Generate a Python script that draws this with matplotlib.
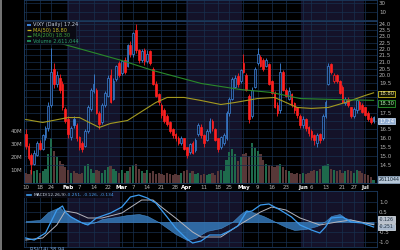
import numpy as np
import pandas as pd
import matplotlib
matplotlib.use("Agg")
import matplotlib.pyplot as plt
from matplotlib.patches import Rectangle
from matplotlib.lines import Line2D
from matplotlib.transforms import offset_copy

# trading days on the chart (VIXY daily, Jan 10 - Jul 7 2011)
dates = pd.bdate_range("2011-01-10", "2011-07-07")
dates = dates.drop(pd.to_datetime(["2011-01-17", "2011-02-21", "2011-04-22",
                                   "2011-05-30", "2011-07-04"]))

opn = [16.23, 15.56, 15.07, 14.6, 15.07, 15.72, 15.4, 16.06, 16.57, 18.03,
       20.48, 19.42, 19.84, 19.42, 17.75, 17.11, 16.06, 17.11, 16.75, 16.06,
       15.72, 15.56, 16.4, 17.75, 18.91, 19.01, 17.47, 16.93, 18.03, 18.61,
       20.05, 18.42, 19.73, 20.92, 20.15, 21.14, 20.7, 22.28, 21.59, 23.5,
       21.94, 21.14, 21.94, 21.03, 21.82, 20.48, 19.42, 18.71, 18.03, 17.66,
       17.29, 16.93, 16.49, 16.23, 15.97, 15.72, 15.97, 15.48, 15.2, 15.72,
       15.3, 16.23, 16.66, 16.14, 15.89, 16.4, 17.02, 16.49, 15.97, 15.48,
       15.72, 15.97, 17.47, 18.42, 19.22, 19.94, 19.63, 20.92, 20.05, 18.61,
       17.29, 19.22, 20.92, 21.37, 21.14, 20.7, 20.81, 19.63, 18.81, 18.03,
       17.66, 20.27, 19.01, 18.42, 18.71, 18.13, 17.84, 17.29, 16.75, 17.11,
       16.66, 16.4, 16.14, 15.72, 16.23, 15.97, 17.29, 19.42, 20.81, 19.63,
       20.05, 19.63, 19.22, 18.13, 18.42, 17.84, 17.29, 17.66, 18.22, 18.03,
       17.84, 17.47, 17.2, 17.02]
hi = [16.5, 15.7, 15.15, 15.3, 15.8, 15.9, 16.2, 16.7, 18.2, 22.05,
      20.9, 20.3, 20.1, 19.6, 17.9, 17.3, 16.7, 17.3, 16.9, 16.1,
      15.8, 16.5, 18.0, 19.1, 20.1, 19.1, 17.6, 18.1, 18.9, 20.0,
      20.5, 19.8, 20.8, 21.1, 21.1, 21.4, 22.4, 22.6, 23.4, 24.0,
      22.0, 22.0, 22.1, 21.9, 21.9, 20.6, 19.6, 18.8, 18.1, 17.8,
      17.4, 17.0, 16.6, 16.3, 16.1, 16.1, 16.0, 15.5, 15.7, 15.8,
      16.0, 16.9, 16.8, 16.2, 16.5, 17.2, 17.1, 16.6, 16.0, 16.1,
      16.3, 17.6, 18.5, 19.9, 20.0, 20.2, 20.5, 21.6, 20.2, 18.7,
      19.2, 20.6, 22.1, 21.5, 21.3, 21.3, 20.9, 19.7, 18.9, 18.2,
      20.9, 20.4, 19.1, 19.2, 18.8, 18.2, 17.9, 17.4, 17.3, 17.2,
      16.7, 16.5, 16.2, 16.3, 16.3, 17.4, 18.3, 20.9, 20.9, 20.2,
      20.1, 19.7, 19.3, 18.5, 18.5, 17.9, 17.9, 18.4, 18.3, 18.1,
      17.9, 17.6, 17.3, 17.3]
lo = [15.4, 14.8, 14.07, 14.5, 15.0, 15.3, 15.3, 15.9, 16.4, 17.9,
      19.1, 19.2, 18.8, 17.7, 16.9, 16.0, 15.9, 16.6, 15.8, 15.3,
      15.2, 15.5, 16.3, 17.6, 18.8, 17.4, 16.5, 16.8, 17.9, 18.5,
      18.1, 18.3, 19.6, 19.9, 20.0, 20.1, 20.6, 21.4, 21.4, 21.7,
      20.9, 21.0, 20.8, 20.9, 20.8, 19.3, 18.5, 18.0, 17.2, 16.9,
      16.7, 16.3, 16.0, 15.8, 15.6, 15.6, 15.3, 14.9, 15.1, 15.1,
      15.2, 16.1, 16.0, 15.5, 15.8, 16.3, 16.4, 15.8, 15.2, 15.4,
      15.6, 15.9, 17.3, 18.3, 19.1, 19.2, 19.5, 20.2, 18.9, 16.9,
      17.2, 19.1, 20.8, 20.6, 20.3, 20.6, 19.3, 18.7, 17.8, 17.3,
      17.5, 18.9, 18.5, 18.3, 17.9, 17.5, 17.2, 16.6, 16.6, 16.4,
      16.1, 15.9, 15.6, 15.5, 15.7, 15.9, 17.2, 19.3, 20.1, 19.5,
      19.5, 18.7, 18.1, 18.0, 17.9, 17.2, 17.2, 17.5, 17.7, 17.5,
      17.3, 17.0, 16.8, 16.9]
cls = [15.56, 14.91, 14.6, 15.15, 15.72, 15.4, 16.14, 16.57, 17.93, 20.27,
       19.42, 20.05, 19.01, 17.84, 17.02, 16.23, 16.57, 16.75, 15.97, 15.48,
       15.4, 16.4, 17.84, 19.01, 19.42, 17.47, 16.84, 18.03, 18.81, 19.84,
       18.22, 19.63, 20.7, 20.05, 21.03, 20.27, 22.28, 21.59, 23.25, 21.94,
       21.14, 21.82, 21.03, 21.59, 20.92, 19.42, 18.61, 18.22, 17.38, 17.02,
       16.84, 16.4, 16.14, 15.97, 15.72, 15.97, 15.4, 15.07, 15.64, 15.15,
       15.89, 16.75, 16.14, 15.72, 16.4, 17.02, 16.57, 15.89, 15.4, 16.06,
       16.14, 17.47, 18.42, 19.73, 19.84, 19.42, 20.37, 20.27, 19.01, 17.11,
       19.01, 20.48, 21.59, 20.7, 20.48, 21.14, 19.42, 18.81, 17.84, 17.47,
       20.27, 19.01, 18.61, 18.91, 18.03, 17.66, 17.38, 16.75, 17.11, 16.57,
       16.31, 16.06, 15.89, 16.14, 15.89, 17.29, 18.22, 20.7, 20.27, 20.05,
       19.63, 18.81, 18.22, 18.42, 18.03, 17.29, 17.75, 18.32, 17.75, 17.56,
       17.38, 17.11, 16.93, 17.24]
# volume in millions
vol = [8, 7, 10, 9, 10, 8, 9, 11, 22, 35,
       25, 20, 17, 15, 12, 10, 8, 9, 8, 7,
       8, 13, 15, 11, 8, 10, 9, 8, 10, 12,
       13, 11, 9, 8, 10, 8, 9, 12, 14, 15,
       11, 9, 8, 10, 8, 9, 7, 8, 7, 6,
       8, 7, 6, 7, 6, 8, 9, 10, 8, 9,
       7, 8, 6, 7, 6, 7, 8, 6, 9, 10,
       9, 18, 24, 26, 22, 17, 20, 22, 23, 21,
       31, 27, 25, 22, 18, 15, 14, 13, 12, 14,
       15, 12, 10, 9, 8, 7, 8, 7, 8, 7,
       8, 9, 10, 9, 11, 13, 14, 15, 11, 10,
       9, 10, 8, 9, 10, 9, 8, 10, 9, 8,
       7, 6, 5, 2.6]

ma50_i = [0, 6, 15, 19, 26, 30, 36, 46, 50, 56, 62, 69, 74, 82, 88, 96, 101, 107, 113, 120, 123]
ma50 = [17.09, 16.91, 17.21, 17.21, 16.61, 16.85, 17.03, 18.16, 18.49, 18.49, 18.29,
        18.03, 18.16, 18.42, 18.49, 17.84, 17.78, 17.84, 18.16, 18.62, 18.80]
ma200_i = [12, 15, 34, 45, 62, 76, 87, 97, 108, 123]
ma200 = [22.45, 22.26, 21.1, 20.36, 19.44, 19.02, 18.82, 18.42, 18.36, 18.30]

macd_i = [0, 3, 7, 11, 13, 14, 16, 20, 22, 25, 30, 34, 37, 40, 43, 46, 50, 53, 57, 59,
          62, 65, 69, 72, 75, 78, 80, 83, 86, 90, 94, 97, 101, 104, 106, 108, 112, 115, 119, 123]
macd = [-0.8, -0.9, -0.55, 0.6, 0.8, 0.5, 0.25, -0.05, -0.15, 0.2, 0.45, 0.75, 1.25, 1.35,
        1.2, 0.95, 0.25, -0.3, -0.85, -1.05, -0.95, -0.65, -0.65, -0.45, -0.2, 0.5, 0.55,
        0.85, 0.9, 0.6, 0.25, -0.15, -0.4, -0.55, -0.25, 0.2, 0.25, 0.0, -0.05, -0.25]
sig_i = [0, 6, 11, 14, 18, 22, 27, 34, 41, 45, 48, 53, 59, 62, 69, 76, 83, 87, 92, 97,
         104, 110, 115, 123]
sig = [-0.9, -0.8, -0.15, 0.55, 0.45, 0.2, 0.2, 0.45, 1.1, 1.1, 0.75, 0.2, -0.5, -0.75,
       -0.75, -0.1, 0.5, 0.75, 0.6, 0.2, -0.15, 0.0, 0.1, -0.13]
hist_i = [0, 5, 8, 12, 14, 18, 21, 24, 27, 32, 36, 40, 43, 47, 50, 53, 57, 60, 64, 69,
          73, 76, 78, 81, 84, 87, 89, 92, 95, 99, 103, 106, 108, 111, 113, 117, 120, 123]
hist = [0.05, 0.1, 0.5, 0.75, 0.45, 0.1, -0.1, -0.05, 0.15, 0.25, 0.35, 0.4, 0.3, 0.0,
        -0.3, -0.6, -0.9, -0.8, -0.45, -0.3, 0.0, 0.4, 0.6, 0.45, 0.3, 0.1, -0.05, -0.25,
        -0.4, -0.35, -0.2, 0.05, 0.3, 0.4, 0.2, 0.05, -0.05, -0.13]

tick_days = ["2011-01-10", "2011-01-18", "2011-01-24", "2011-02-01", "2011-02-07",
             "2011-02-14", "2011-02-22", "2011-03-01", "2011-03-07", "2011-03-14",
             "2011-03-21", "2011-03-28", "2011-04-01", "2011-04-11", "2011-04-18",
             "2011-04-25", "2011-05-02", "2011-05-09", "2011-05-16", "2011-05-23",
             "2011-06-01", "2011-06-06", "2011-06-13", "2011-06-21", "2011-06-27",
             "2011-07-01"]
tick_text = ["10", "18", "24", "Feb", "7", "14", "22", "Mar", "7", "14", "21", "28",
             "Apr", "11", "18", "25", "May", "9", "16", "23", "Jun", "6", "13", "21",
             "27", "Jul"]
price_ticks = np.arange(14.5, 24.01, 0.5)
# labels hidden behind the value tags in the reference
hidden = (17.0, 18.0, 18.5, 19.0)

GRID = "#18304e"
SPINE = "#1c3a5e"
TXT = "#b4b4b4"
BAND = "#141229"

o, h, l, c = map(np.array, (opn, hi, lo, cls))
n = len(c)
x = np.arange(n)

fig = plt.figure(figsize=(4, 2.5), dpi=100)
fig.patch.set_facecolor("black")
L, W = 0.06, 0.8825
ax_top = fig.add_axes([L, 0.92, W, 0.08])
ax_v = fig.add_axes([L, 0.268, W, 0.648], sharex=ax_top)
ax = ax_v.twinx()
ax_m = fig.add_axes([L, 0.012, W, 0.224], sharex=ax_top)

tick_pos = [dates.get_loc(pd.Timestamp(d)) for d in tick_days]
ax_v.set_xticks(tick_pos)
ax_v.set_xticklabels(tick_text)
ax_v.set_xlim(-0.6, n + 0.2)

for a in (ax_top, ax_v, ax_m):
    a.set_facecolor("black")
    for m in (2, 4, 6):
        mi = np.where(dates.month == m)[0]
        a.axvspan(mi[0] - 0.5, mi[-1] + 0.5, color=BAND, lw=0, zorder=0)
    a.grid(axis="x", color=GRID, lw=0.5)
    a.set_axisbelow(True)
for a in (ax_top, ax_v, ax_m, ax):
    for s in a.spines.values():
        s.set_color(SPINE)
        s.set_linewidth(0.6)
    a.tick_params(length=0, labelsize=4, colors=TXT, pad=1.5)
ax_top.tick_params(labelbottom=False)
ax_m.tick_params(labelbottom=False)

# top (cut off) panel
ax_top.yaxis.tick_right()
ax_top.set_ylim(-8, 37)
ax_top.set_yticks([10, 30])
ax_top.grid(axis="y", color=GRID, lw=0.5)

# volume
ax_v.bar(x, np.array(vol) * 1e6, width=0.8, color=np.where(c >= o, "#1e6a4c", "#583838"), zorder=2)
ax_v.set_ylim(0, 125e6)
ax_v.set_yticks([10e6, 20e6, 30e6, 40e6], ["10M", "20M", "30M", "40M"])
for lab in ax_v.get_xticklabels():
    if lab.get_text().isalpha():
        lab.set_color("white")
        lab.set_fontweight("bold")

# price (log scale, right axis)
ax.set_yscale("log")
ax.set_ylim(13.62, 24.3)
ax.set_yticks(price_ticks, ["" if round(v, 1) in hidden else f"{v:.1f}" for v in price_ticks])
ax.yaxis.set_minor_locator(matplotlib.ticker.NullLocator())
ax.grid(axis="y", color=GRID, lw=0.5)
ax.set_axisbelow(True)

prev = np.r_[o[0], c[:-1]]
col = np.where(c >= prev, "#3f86dc", "#ff2020")
face = np.where(c >= o, "#0c1630", col)
face[-1] = "#e8a020"
ax.vlines(x, l, h, colors=col, lw=0.6, zorder=3)
ax.bar(x, np.abs(c - o), bottom=np.minimum(o, c), width=0.62, color=face,
       edgecolor=col, linewidth=0.5, zorder=4)

ax.plot(ma50_i, ma50, color="#a49a20", lw=0.8, zorder=5)
ax.plot(ma200_i, ma200, color="#2a8a2a", lw=0.8, zorder=5)


def tag(axis, yval, text, fc, ec, tc, dy=0, size=3.8):
    tr = offset_copy(axis.get_yaxis_transform(), fig=fig, x=2, y=dy, units="dots")
    axis.text(1, yval, text, transform=tr, fontsize=size, color=tc,
              va="center", ha="left", clip_on=False, zorder=10,
              bbox=dict(boxstyle="square,pad=0.15", fc=fc, ec=ec, lw=0.6))


tag(ax, ma50[-1], "18.80", "#141400", "#c8b820", "#e8e0a0", dy=-1)
tag(ax, ma200[-1], "18.30", "#001400", "#2e9a2e", "#b0e0b0", dy=-3)
tag(ax, cls[-1], "17.24", "#90acd0", "#c0d4ec", "white", dy=-4)
tag(ax_v, vol[-1] * 1e6, "2611044", "#b8c8d8", "#8aa0b8", "#0a1a2a", size=3.4)

# legend block
ax.add_patch(Rectangle((0, 0.858), 0.148, 0.142, transform=ax.transAxes, fc="#0a0a12",
                       ec="#22324a", lw=0.4, alpha=0.92, zorder=8))
rows = [("VIXY (Daily) 17.24", "#c4d0e0", "#3f86dc"),
        ("MA(50) 18.80", "#c8b820", "#c8b820"),
        ("MA(200) 18.30", "#3ca03c", "#3ca03c"),
        ("Volume 2,611,044", "#2aa070", "#1e8a5a")]
for k, (txt, tc, ic) in enumerate(rows):
    yy = 0.976 - k * 0.034
    ax.plot([0.008, 0.02], [yy, yy], transform=ax.transAxes, color=ic,
            lw=1.4 if k in (0, 3) else 0.9, zorder=9, solid_capstyle="butt")
    ax.text(0.026, yy, txt, transform=ax.transAxes, fontsize=3.6, color=tc,
            va="center", ha="left", zorder=9)

# MACD panel
ax_m.yaxis.tick_right()
ax_m.set_ylim(-1.25, 1.55)
ax_m.set_yticks([-1, -0.5, 0, 0.5, 1], ["-1.0", "-0.5", "", "0.5", "1.0"])
ax_m.grid(axis="y", color=GRID, lw=0.5)
ax_m.fill_between(hist_i, 0, hist, color="#3478b8", alpha=0.85, lw=0.4, edgecolor="#4a94d8", zorder=2)
ax_m.plot(sig_i, sig, color="#b4b4bc", lw=0.7, zorder=3)
ax_m.plot(macd_i, macd, color="#3c9cf0", lw=0.9, zorder=4)
ax_m.add_patch(Rectangle((0, 0.87), 0.25, 0.13, transform=ax_m.transAxes, fc="#0a0a12",
                         lw=0, alpha=0.9, zorder=8))
ax_m.plot([0.008, 0.02], [0.935, 0.935], transform=ax_m.transAxes, color="#3c9cf0", lw=1.2, zorder=9)
ax_m.text(0.026, 0.935, "MACD(12,26,9)", transform=ax_m.transAxes, fontsize=3.2,
          color="#c4d0e0", va="center", ha="left", zorder=9)
ax_m.text(0.118, 0.935, "-0.251, -0.126, -0.134", transform=ax_m.transAxes, fontsize=3.2,
          color="#4aa0f0", va="center", ha="left", zorder=9)
tag(ax_m, 0.12, "-0.126", "#b8c0cc", "#d0d8e0", "#203040", size=3.3)
tag(ax_m, -0.24, "-0.251", "#a8b8cc", "#d0d8e0", "#203040", size=3.3)

fig.text(0.075, -0.006, "RSI(14) 38.94", fontsize=3.6, color="#7aa8d8", va="bottom")
fig.add_artist(Line2D([0.003, 0.003], [0, 1], transform=fig.transFigure, color="#8a8a8a", lw=1.2))

fig.savefig("out.png", dpi=100, facecolor="black")
